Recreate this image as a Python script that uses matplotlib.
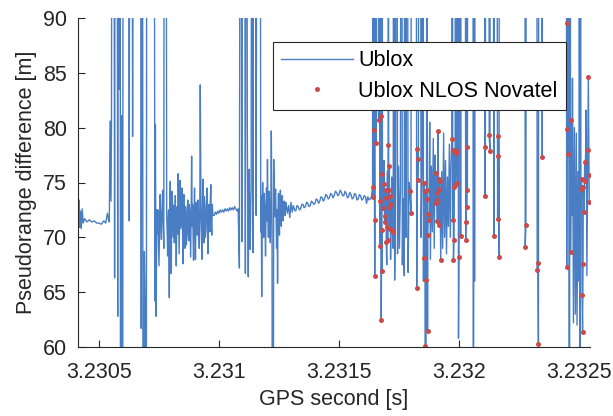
import numpy as np
import matplotlib
matplotlib.use('Agg')
import matplotlib.pyplot as plt

plt.rcParams['font.family'] = ['Liberation Sans', 'DejaVu Sans']

# time offsets are seconds after GPS second 323000
T_BASE = 323000
HI = 150   # off the top of the plot
LO = 0     # off the bottom of the plot

# ublox samples that are not flagged NLOS, (t, value) by stretch of the run
quiet_start = [(41.3, 72.0), (41.7, 73.4), (42.0, 70.9), (42.3, 72.4), (42.6, 70.8), (43.0, 72.6),
               (43.4, 71.3), (44.0, 71.7), (45.0, 71.4), (46.0, 71.6), (47.0, 71.4), (48.0, 71.5),
               (49.0, 71.3), (50.0, 71.3), (51.0, 71.2), (52.0, 71.5), (52.8, 71.3), (53.5, 72.2),
               (54.0, 71.6), (54.3, 71.4)]

burst_1 = [(54.6, 80.6), (55.0, 73.3), (55.2, 80.5), (55.6, HI), (56.0, HI), (56.5, 66.3), (56.9, HI),
           (57.4, HI), (57.8, 62.8), (58.1, HI), (58.5, 83.5), (58.8, HI), (59.0, LO), (59.5, 81.1),
           (59.8, LO), (60.1, HI), (61.0, HI), (62.2, HI), (62.6, 71.5), (63.0, HI), (63.6, HI),
           (64.0, 79.2), (64.5, HI), (65.5, HI), (67.3, HI), (67.6, 61.7), (68.0, HI), (68.5, LO),
           (68.9, 68.7), (69.2, 64.3), (69.6, LO), (70.0, HI), (72.8, HI), (73.3, 64.2), (73.5, 80.3),
           (73.8, 62.8)]

noisy_1 = [(74.1, 72.5), (74.3, 70.4), (74.5, 72.5), (74.8, 69.2), (75.0, 67.4), (75.3, 72.1),
           (75.5, 73.9), (75.8, 71.0), (76.0, 69.8), (76.3, 72.6), (76.5, 74.3), (76.8, 71.2),
           (77.0, 69.0), (77.3, HI), (77.8, HI), (78.2, 72.0), (78.4, 70.6), (78.6, 68.3),
           (78.8, 71.5), (79.0, 72.5), (79.3, 64.5), (79.5, 73.0), (79.7, 75.1), (79.9, 70.2),
           (80.1, 66.7), (80.3, 71.8), (80.5, 74.2), (80.8, 71.6), (81.0, 70.0), (81.2, 72.9),
           (81.4, 69.5), (81.6, 71.4), (81.8, 73.8), (82.0, 70.6), (82.2, 67.4), (82.4, 71.2),
           (82.6, 72.8), (82.8, 70.3), (83.0, 75.8), (83.2, 71.7), (83.4, 68.5), (83.6, 72.0),
           (83.8, 75.2), (84.0, 70.8), (84.2, 71.4), (84.4, 73.2), (84.6, 74.5), (84.8, 70.9),
           (85.0, 67.6), (85.2, 71.8), (85.4, 73.9), (85.6, 71.2), (85.8, 69.0), (86.0, 72.8),
           (86.2, 72.1), (86.4, 69.3), (86.6, 70.0), (86.8, 72.7), (87.0, 73.4), (87.2, 70.4),
           (87.4, 69.7), (87.6, 73.0), (87.8, 72.5), (88.0, 70.1), (88.2, 68.2), (88.4, 72.3),
           (88.6, 77.4), (88.8, 71.0), (89.0, 73.0), (89.2, 70.5), (89.4, 67.9), (89.6, 72.1),
           (89.8, 74.5), (90.0, 71.1), (90.2, 68.0), (90.4, 71.9), (90.6, 73.2), (90.8, 70.6),
           (91.0, 70.2), (91.2, 73.4), (91.4, 72.5), (91.6, 70.1), (91.8, 69.0), (92.0, 72.4),
           (92.2, 83.9), (92.5, 71.9), (92.7, 70.3), (92.9, 68.0), (93.1, 72.6), (93.3, 75.3),
           (93.5, 71.4), (93.7, 69.5), (93.9, 73.7), (94.1, 72.8), (94.3, 70.0), (94.5, 70.5),
           (94.8, 73.3), (95.0, 74.5), (95.2, 71.0), (95.4, 68.5), (95.6, 72.2), (95.8, 73.0),
           (96.0, 70.8), (96.2, 70.5), (96.4, 73.5), (96.6, 74.8), (96.8, 71.3), (97.0, 70.2),
           (97.2, 73.0), (97.5, 72.0)]

flat_1 = [(98.0, 72.0), (98.5, 72.3), (99.0, 72.1), (99.5, 72.4), (100.0, 72.2), (100.5, 72.5),
          (101.0, 72.3), (101.5, 72.5), (102.0, 72.3), (102.5, 72.6), (103.0, 72.4), (103.5, 72.6),
          (104.0, 72.4), (104.5, 72.7), (105.0, 72.5), (105.5, 72.7), (106.0, 72.5), (106.5, 72.8),
          (107.0, 72.6), (107.6, 72.4), (108.0, 72.6)]

burst_2 = [(108.5, 67.2), (109.0, HI), (109.5, 69.6), (110.0, HI), (110.5, HI), (111.0, 66.7),
           (111.4, HI), (111.8, 80.0), (112.0, 71.5), (112.2, 66.4), (112.4, 73.2), (112.6, 76.2),
           (112.8, 71.0), (113.0, 68.9), (113.2, 72.6), (113.4, 74.5), (113.8, HI), (114.2, 68.6),
           (114.6, HI), (115.0, HI), (115.5, 72.0), (116.0, HI), (116.5, HI), (117.0, HI),
           (117.4, 70.5), (117.6, 73.8), (117.8, 64.6), (118.0, 72.4), (118.2, 75.0), (118.4, 71.3),
           (118.6, 70.0), (118.8, 74.0), (119.0, 73.1), (119.2, 71.0), (119.4, 68.3), (119.6, 72.8),
           (119.8, 74.5), (120.0, 71.5), (120.2, 77.1), (120.4, 72.1), (120.6, 70.0), (120.8, 74.2),
           (121.0, 73.5), (121.2, 70.8), (121.4, 69.5), (121.6, 73.1), (121.8, 79.7), (122.1, 71.0),
           (122.4, LO), (122.8, 77.1), (123.0, 73.4), (123.2, 71.9), (123.4, 73.8), (123.6, 74.4),
           (123.8, 71.4), (124.0, 69.0), (124.2, 72.5), (124.4, 65.8), (124.6, 72.3), (124.8, 74.0),
           (125.0, 71.6), (125.2, 70.2), (125.4, 73.1), (125.6, 74.3), (125.8, 72.2), (126.0, 71.0),
           (126.2, 73.2), (126.4, 73.8), (126.6, 71.9), (126.8, 71.5), (127.0, 73.0), (127.2, 73.3),
           (127.4, 72.1), (127.6, 72.0), (127.8, 73.2), (128.0, 73.0), (128.5, 72.2), (129.0, 72.9),
           (129.5, 71.8), (130.0, 73.2), (130.5, 72.3)]

smooth = [(131.0, 72.9), (131.5, 72.5), (132.0, 72.4), (132.5, 72.9), (133.0, 72.8), (133.5, 72.5),
          (134.0, 72.6), (134.5, 73.0), (135.0, 73.0), (135.5, 72.7), (136.0, 72.8), (136.5, 73.2),
          (137.0, 73.1), (137.5, 72.8), (138.0, 72.9), (138.5, 73.3), (139.0, 73.2), (139.5, 73.0),
          (140.0, 73.1), (140.5, 73.5), (141.0, 73.4), (141.5, 73.1), (142.0, 73.3), (142.5, 73.7),
          (143.0, 73.6), (143.5, 73.3), (144.0, 73.5), (144.5, 73.9), (145.0, 73.8), (145.5, 73.5),
          (146.0, 73.6), (146.5, 74.0), (147.0, 73.9), (147.5, 73.6), (148.0, 73.8), (148.5, 74.2),
          (149.0, 74.1), (149.5, 73.8), (150.0, 73.9), (150.5, 74.3), (151.0, 74.1), (151.5, 73.8),
          (152.0, 73.8), (152.5, 74.2), (153.0, 74.0), (153.5, 73.6), (154.0, 73.7), (154.5, 74.1),
          (155.0, 73.9), (155.5, 73.5), (156.0, 73.6), (156.5, 74.0), (157.0, 73.9), (157.5, 73.4),
          (158.0, 73.5), (158.5, 73.9), (159.0, 73.8), (159.5, 73.4), (160.0, 73.5), (160.5, 73.8),
          (161.0, 73.7), (161.5, 73.1), (162.0, 73.7), (162.5, 73.4), (163.0, 73.5), (163.5, 73.7)]

mixed_los = [(164.2, HI), (164.5, HI), (165.2, HI), (165.7, HI), (166.0, HI), (166.3, HI), (166.7, HI),
             (167.3, HI), (168.0, HI), (168.8, 77.0), (169.9, 67.5), (170.2, 76.0), (170.6, HI),
             (171.5, 68.0), (172.0, 75.5), (172.6, 69.0), (172.8, HI), (173.2, 66.1), (173.6, 75.5),
             (174.0, HI), (174.4, 68.5), (174.8, 76.5), (175.2, 69.0), (175.6, 74.5), (176.0, HI),
             (176.4, 67.5), (176.8, 73.5), (177.2, 66.5), (177.5, HI), (177.9, 70.0), (178.3, HI),
             (178.8, 66.8), (179.2, 75.0), (180.3, HI), (180.7, HI), (181.5, HI), (182.0, HI),
             (183.4, HI), (183.8, HI), (184.2, 70.0), (184.6, 76.0), (185.0, HI), (185.2, 66.0),
             (186.1, LO), (186.7, HI), (187.8, 80.5), (188.1, 68.0), (188.5, 76.5), (188.9, 70.5),
             (189.3, 79.0), (189.7, 69.0), (190.0, 77.5), (192.8, 76.0), (193.2, 69.0), (193.6, 79.5),
             (194.0, 70.0), (194.4, 77.0), (194.8, 68.5), (195.2, 75.5), (195.6, 71.0), (196.0, 78.5),
             (196.4, 70.0), (196.7, 76.5), (197.2, HI), (198.6, HI), (199.5, HI), (199.8, 60.8),
             (200.3, HI), (200.9, HI), (201.5, HI), (202.0, HI), (202.5, HI), (203.0, HI), (203.8, HI),
             (204.5, HI), (205.8, HI), (206.0, LO), (206.3, HI), (206.5, 66.0), (206.8, HI),
             (208.0, HI), (210.0, HI), (210.4, HI), (210.6, HI), (211.3, HI), (211.8, HI), (212.3, HI),
             (213.2, HI), (213.8, HI), (214.9, HI), (215.5, HI), (216.9, HI), (220.0, HI), (225.0, HI),
             (227.4, HI), (228.2, HI), (230.0, HI), (232.3, HI), (233.4, HI), (234.2, HI), (235.0, HI),
             (240.0, HI), (244.6, HI), (245.6, HI), (246.0, LO), (246.3, HI), (247.1, 72.0),
             (247.3, 84.5), (247.7, 62.2), (248.1, 80.0), (248.5, 63.0), (248.9, 79.5), (249.2, 62.0),
             (249.6, 76.0), (250.0, 66.0), (250.2, HI), (250.4, LO), (250.6, HI), (253.0, 81.6),
             (253.3, 66.5)]

# ublox samples flagged NLOS by the Novatel reference
nlos = [(164.0, 74.6), (164.3, 73.7), (164.7, 79.8), (164.9, 66.5), (165.0, 71.6), (165.4, 78.6),
        (166.5, 80.7), (167.1, 69.2), (167.2, 73.3), (167.4, 81.1), (167.6, 62.5), (167.8, 70.7),
        (167.9, 66.9), (168.1, 75.8), (168.4, 72.7), (168.6, 74.9), (169.0, 71.4), (169.3, 71.9),
        (169.4, 73.6), (169.6, 74.3), (169.7, 69.6), (170.0, 70.9), (170.3, 69.8), (170.5, 78.4),
        (170.7, 74.3), (170.8, 72.8), (171.0, 76.5), (171.1, 70.8), (171.4, 73.8), (171.8, 73.0),
        (171.9, 70.7), (172.4, 70.5),
        (179.6, 74.2), (180.0, 72.2), (182.4, 65.4), (182.6, 78.1), (182.8, 75.2), (183.1, 77.1),
        (185.4, 75.0), (185.5, 68.1), (185.8, 74.2), (185.9, 60.1), (186.3, 66.1), (186.5, 74.3),
        (186.8, 73.5), (186.9, 61.5), (187.0, 70.2), (187.2, 72.1), (187.5, 71.6),
        (190.3, 73.1), (190.4, 75.9), (190.7, 74.0), (190.8, 73.4), (191.0, 71.5), (191.3, 79.7),
        (191.5, 74.4), (191.7, 71.1), (191.8, 75.3), (192.1, 75.1), (192.4, 67.9),
        (197.0, 79.0), (197.4, 71.6), (197.6, 78.0), (197.7, 67.9), (197.9, 69.8), (198.1, 74.6),
        (198.3, 77.8), (198.4, 74.8), (198.8, 77.7), (199.0, 77.9), (199.3, 75.0), (200.0, 68.2),
        (200.7, 70.1), (202.8, 69.8), (202.9, 71.4), (203.2, 72.8), (203.3, 78.2), (203.5, 74.3),
        (210.8, 73.8), (211.0, 78.2), (212.6, 79.3), (212.9, 77.9), (214.6, 70.1), (216.1, 71.7),
        (216.3, 77.4), (216.4, 79.2), (216.7, 68.2), (227.6, 69.1), (227.9, 71.1), (232.6, 67.0),
        (232.9, 67.7), (233.1, 60.3), (234.7, 77.3), (244.9, 67.3), (245.0, 79.9), (245.1, 89.5),
        (245.3, 77.6), (246.5, 68.7), (246.8, 80.7), (250.8, 74.4), (251.1, 75.3), (251.3, 64.7),
        (251.5, 61.4), (251.7, 67.6), (251.8, 74.6), (252.1, 72.3), (252.4, 76.9), (252.6, 75.1),
        (253.7, 78.0), (253.9, 84.6), (254.2, 75.7), (254.3, 73.2)]

x_ticks = [3.2305, 3.231, 3.2315, 3.232, 3.2325]
x_tick_labels = ['3.2305', '3.231', '3.2315', '3.232', '3.2325']
y_ticks = [60, 65, 70, 75, 80, 85, 90]

# full ublox series = all samples in time order
ublox = np.array(sorted(quiet_start + burst_1 + noisy_1 + flat_1 + burst_2 + smooth + mixed_los + nlos))
nl = np.array(nlos)

ublox_x = (T_BASE + ublox[:, 0]) / 1e5
nlos_x = (T_BASE + nl[:, 0]) / 1e5

fig = plt.figure(figsize=(6.13, 4.16), dpi=100)
ax = fig.add_axes([78/613, 1 - 347/416, 512/613, 329/416])

ax.plot(ublox_x, ublox[:, 1], color='#4a7ec4', lw=1.0, label='Ublox')
ax.plot(nlos_x, nl[:, 1], 'o', color='#cc4a4a', ms=3.6, mec='none', label='Ublox NLOS Novatel')

ax.set_xlim((T_BASE + 41.25) / 1e5, (T_BASE + 254.6) / 1e5)
ax.set_ylim(60, 90)
ax.set_xticks(x_ticks)
ax.set_xticklabels(x_tick_labels)
ax.set_yticks(y_ticks)

for s in ['top', 'right']:
    ax.spines[s].set_visible(False)
for s in ['left', 'bottom']:
    ax.spines[s].set_color('#262626')
    ax.spines[s].set_linewidth(0.8)
ax.tick_params(direction='in', length=5, width=0.8, colors='#262626', labelsize=15.5)
ax.tick_params(axis='x', pad=11)
ax.tick_params(axis='y', pad=8)

ax.set_xlabel('GPS second [s]', fontsize=15.5, color='#262626', labelpad=4)
ax.set_ylabel('Pseudorange difference [m]', fontsize=15.5, color='#262626', labelpad=4)

leg = ax.legend(loc='upper right', bbox_to_anchor=((566 - 78) / 512, (347 - 42) / 329),
                fontsize=15.6, frameon=True, fancybox=False, framealpha=1, edgecolor='#262626',
                handlelength=3.3, handletextpad=0.25, borderpad=0.38, labelspacing=0.45,
                borderaxespad=0)
leg.get_frame().set_linewidth(0.8)

fig.savefig('out.png', dpi=100)
